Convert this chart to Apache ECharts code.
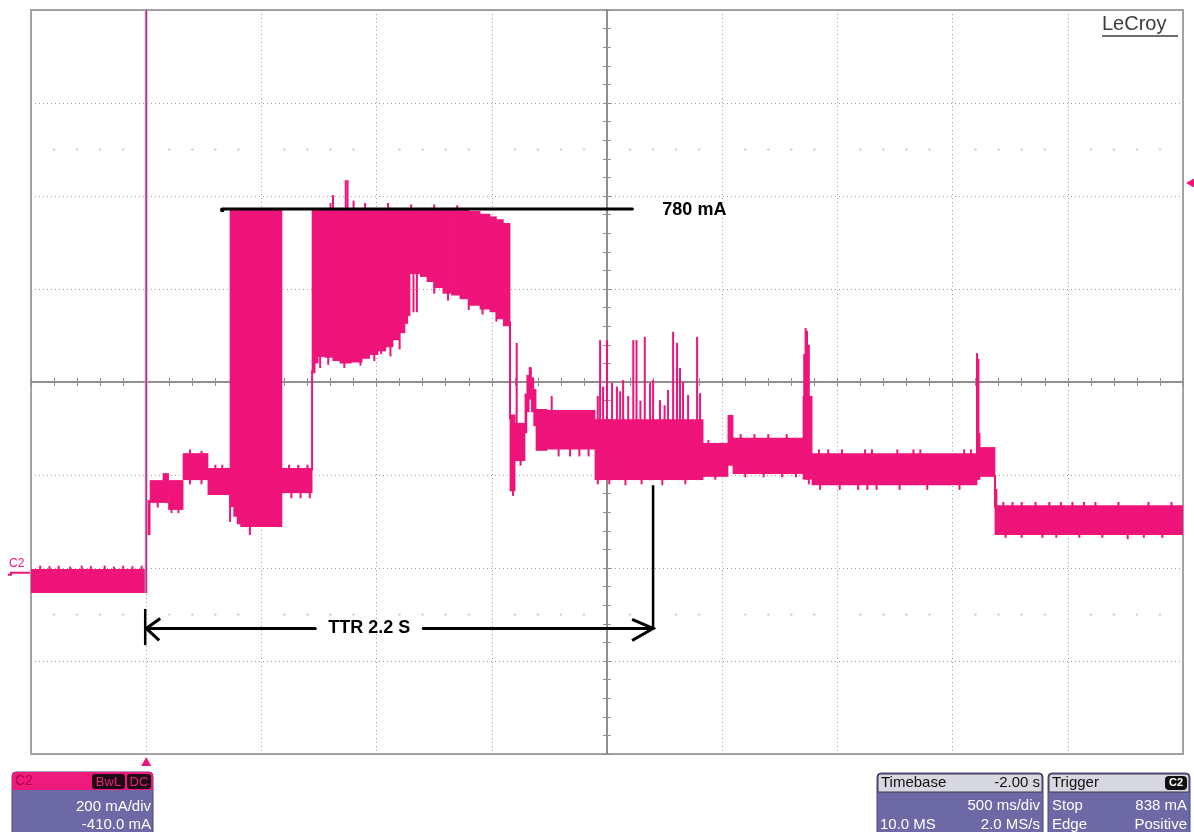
<!DOCTYPE html>
<html><head><meta charset="utf-8">
<script src="https://cdn.jsdelivr.net/npm/echarts@6/dist/echarts.min.js"></script>
<style>html,body{margin:0;padding:0;background:#fff;}#c{width:1194px;height:832px;}</style>
</head><body><div id="c"></div>
<script>
// ---------- scope settings ----------
const timeMin = -0.5, timeMax = 4.5;          // s  (500 ms/div, 10 div, trigger at 0)
const currMin = -390, currMax = 1210;         // mA (200 mA/div, 8 div, offset -410 mA)
const divX = [-5, 5], divY = [-4, 4];         // graticule in divisions
const triggerTime = 0;                        // s
const triggerLevel = 838;                     // mA
const groundLevel = 0;                        // mA

// ---------- trace envelope: [tStart s, tEnd s, low mA, high mA] ----------
const bands = [
  [-0.5, 0.0, -44, 8],
  [0.0, 0.017, 81, 156],
  [0.017, 0.073, 150, 199],
  [0.073, 0.097, 150, 214],
  [0.097, 0.160, 135, 199],
  [0.160, 0.268, 199, 257],
  [0.268, 0.364, 167, 225],
  [0.364, 0.380, 141, 780],
  [0.380, 0.395, 120, 780],
  [0.395, 0.410, 104, 780],
  [0.410, 0.589, 98, 780],
  [0.589, 0.720, 171, 225],
  [0.720, 0.733, 429, 780],
  [0.733, 0.746, 450, 780],
  [0.746, 0.776, 464, 780],
  [0.776, 0.810, 462, 780],
  [0.810, 0.841, 455, 780],
  [0.841, 0.890, 450, 780],
  [0.890, 0.937, 452, 780],
  [0.937, 0.970, 460, 780],
  [0.970, 1.006, 468, 780],
  [1.006, 1.040, 476, 780],
  [1.040, 1.071, 485, 780],
  [1.071, 1.100, 500, 780],
  [1.100, 1.123, 515, 780],
  [1.123, 1.135, 535, 780],
  [1.135, 1.145, 552, 780],
  [1.145, 1.190, 642, 780],
  [1.190, 1.219, 636, 780],
  [1.219, 1.250, 625, 780],
  [1.250, 1.288, 612, 780],
  [1.288, 1.325, 600, 780],
  [1.325, 1.362, 596, 780],
  [1.362, 1.400, 588, 780],
  [1.400, 1.449, 574, 778],
  [1.449, 1.492, 566, 772],
  [1.492, 1.520, 560, 766],
  [1.520, 1.550, 545, 760],
  [1.550, 1.579, 530, 752],
  [1.579, 1.601, 175, 340],
  [1.601, 1.644, 240, 322],
  [1.644, 1.652, 300, 385],
  [1.652, 1.662, 345, 425],
  [1.662, 1.672, 372, 442],
  [1.672, 1.682, 345, 420],
  [1.682, 1.692, 315, 395],
  [1.692, 1.740, 262, 352],
  [1.740, 1.948, 265, 350],
  [1.948, 2.417, 199, 330],
  [2.417, 2.525, 206, 279],
  [2.525, 2.547, 230, 339],
  [2.547, 2.851, 212, 290],
  [2.851, 2.890, 200, 380],
  [2.890, 3.606, 188, 257],
  [3.606, 3.619, 200, 300],
  [3.619, 3.684, 206, 270],
  [3.684, 4.5, 81, 145]
];

// ---------- narrow spikes, edges and edge jitter: [t s, low mA, high mA] ----------
const spikes = [
  // pre-trigger jitter
  [-0.46, 0, 15], [-0.42, 0, 14], [-0.38, 0, 15], [-0.33, 0, 13], [-0.28, 0, 15], [-0.24, 0, 14],
  [-0.18, 0, 15], [-0.14, 0, 13], [-0.10, 0, 15], [-0.06, 0, 14], [-0.02, 0, 15],
  // step region
  [0.05, 140, 160], [0.11, 128, 140], [0.14, 128, 140], [0.19, 190, 265], [0.24, 190, 262],
  [0.30, 220, 232], [0.33, 220, 232], [0.62, 220, 232], [0.66, 220, 232], [0.70, 220, 232],
  [0.63, 160, 172], [0.67, 160, 172], [0.71, 160, 172],
  // burst 1 / 2 edges
  [0.364, 109, 200], [0.45, 81, 110],
  [0.720, 220, 435],
  [0.811, 760, 812], [0.866, 760, 844], [0.874, 760, 844], [0.90, 760, 800],
  [0.80, 770, 795], [0.95, 770, 795], [1.05, 770, 795], [1.15, 770, 792], [1.25, 770, 792], [1.35, 770, 790],
  [0.755, 440, 480], [0.79, 447, 480], [0.86, 440, 470], [0.93, 445, 470], [0.99, 455, 480],
  [1.02, 470, 500], [1.06, 465, 500], [1.10, 480, 520], [1.16, 560, 650], [1.175, 560, 650],
  [1.25, 600, 640], [1.31, 585, 620], [1.40, 565, 600], [1.46, 555, 580], [1.52, 540, 570],
  // drop and ringing
  [1.579, 330, 540], [1.592, 165, 260], [1.608, 300, 494], [1.625, 230, 260],
  [1.76, 340, 380], [1.79, 250, 270], [1.84, 250, 270], [1.88, 250, 270], [1.92, 250, 270],
  // burst 3 spikes
  [1.960, 190, 380], [1.970, 199, 500], [1.983, 199, 400], [2.000, 199, 500], [2.022, 199, 408],
  [2.043, 199, 400], [2.057, 199, 390], [2.070, 199, 414], [2.092, 199, 380],
  [2.114, 199, 500], [2.128, 199, 500], [2.145, 199, 370], [2.164, 199, 507],
  [2.187, 199, 408], [2.200, 199, 414], [2.230, 199, 371], [2.250, 199, 360],
  [2.265, 199, 393], [2.287, 199, 518], [2.304, 199, 494], [2.317, 199, 440],
  [2.330, 199, 410], [2.352, 199, 382], [2.391, 199, 507], [2.404, 199, 386],
  [2.01, 190, 210], [2.08, 188, 210], [2.15, 190, 210], [2.24, 188, 210], [2.34, 190, 210],
  // middle bands jitter
  [2.47, 200, 215], [2.44, 270, 285], [2.58, 280, 298], [2.64, 280, 298], [2.70, 280, 298],
  [2.78, 280, 298], [2.60, 205, 220], [2.68, 205, 220], [2.76, 205, 220], [2.82, 205, 220],
  [2.856, 230, 470], [2.862, 230, 526], [2.868, 200, 520], [2.876, 190, 490],
  [2.925, 178, 195], [3.01, 178, 195], [3.09, 178, 195], [3.13, 178, 195], [3.17, 178, 195],
  [3.27, 178, 195], [3.39, 178, 195], [3.53, 178, 195],
  [2.92, 250, 265], [2.96, 250, 265], [3.02, 250, 265], [3.12, 250, 265], [3.15, 250, 265],
  [3.26, 250, 265], [3.33, 250, 265], [3.36, 250, 265], [3.55, 250, 265], [3.58, 250, 265],
  [3.606, 200, 472], [3.612, 200, 460],
  [3.684, 140, 210], [3.690, 140, 180],
  // tail jitter
  [3.72, 140, 152], [3.76, 140, 152], [3.80, 140, 152], [3.86, 140, 152], [3.92, 140, 152],
  [3.97, 140, 152], [4.02, 140, 152], [4.07, 140, 152], [4.12, 140, 152], [4.22, 140, 152],
  [4.35, 140, 152], [4.45, 140, 152],
  [3.73, 75, 88], [3.80, 75, 88], [3.89, 75, 88], [3.95, 75, 88], [4.05, 75, 88],
  [4.15, 75, 88], [4.26, 72, 88], [4.33, 75, 88], [4.41, 75, 88]
];
const triggerEdge = [0.0, -44, 1210];

// ---------- annotations ----------
const peakLevel = 780, peakSpan = [0.33, 2.11], peakLabel = '780 mA';
const ttrSpan = [0.0, 2.2], ttrLevel = -120, ttrLabel = 'TTR 2.2 S';
const ttrLeftTick = [-78, -156], ttrRightTop = 188;

// ---------- info panels ----------
const chanInfo = ['C2', 'BwL', 'DC', '200 mA/div', '-410.0 mA'];
const timeInfo = ['Timebase', '-2.00 s', '500 ms/div', '10.0 MS', '2.0 MS/s'];
const trigInfo = ['Trigger', 'C2', 'Stop', '838 mA', 'Edge', 'Positive'];

const TRACE = '#ef1479';
const GRIDC = '#8f8f8f';
const FONT = '"Liberation Sans", Arial, sans-serif';

const chart = echarts.init(document.getElementById('c'), null, {renderer: 'canvas'});

function divAxis(range, pos, split) {
  return {
    type: 'value', min: range[0], max: range[1], interval: 1, position: pos,
    axisLine: {show: true, onZero: true, onZeroAxisIndex: 0, lineStyle: {color: GRIDC, width: 2}},
    axisTick: {show: true, length: 4, lineStyle: {color: GRIDC, width: 1}},
    minorTick: {show: true, splitNumber: 5, length: 4, lineStyle: {color: GRIDC, width: 1}},
    splitLine: {show: split, lineStyle: {color: '#9c9c9c', width: 1, type: [1, 3]}},
    axisLabel: {show: false}
  };
}

const option = {
  animation: false,
  backgroundColor: '#ffffff',
  grid: {left: 31, top: 10, width: 1152, height: 744, show: true, borderColor: '#a3a3a3', borderWidth: 2,
         backgroundColor: '#fff', containLabel: false, outerBoundsMode: 'none'},
  xAxis: [divAxis(divX, 'bottom', true), divAxis(divX, 'top', false),
          {type: 'value', min: timeMin, max: timeMax, show: false}],
  yAxis: [divAxis(divY, 'left', true), divAxis(divY, 'right', false),
          {type: 'value', min: currMin, max: currMax, show: false}],
  series: [
    {
      // faint half-division reference marks of the graticule
      type: 'custom', xAxisIndex: 0, yAxisIndex: 0, silent: true, clip: true, z: 1,
      data: [[0]],
      renderItem: function (params, api) {
        const kids = [];
        [2.5, -2.5].forEach(function (row) {
          for (let i = 0; i <= 50; i++) {
            if (i % 5 === 0) continue;
            const p = api.coord([divX[0] + i * 0.2, row]);
            kids.push({type: 'rect', shape: {x: p[0] - 0.5, y: p[1] - 1.5, width: 1, height: 3}, style: {fill: '#cfcfcf'}});
            kids.push({type: 'rect', shape: {x: p[0] - 1.5, y: p[1] - 0.5, width: 3, height: 1}, style: {fill: '#d6d6d6'}});
          }
        });
        return {type: 'group', children: kids};
      }
    },
    {
      type: 'custom', xAxisIndex: 2, yAxisIndex: 2, silent: true, clip: true,
      data: bands,
      renderItem: function (params, api) {
        const a = api.coord([api.value(0), api.value(3)]);
        const b = api.coord([api.value(1), api.value(2)]);
        return {type: 'rect', shape: {x: a[0] - 0.4, y: a[1], width: Math.max(b[0] - a[0] + 0.8, 1), height: b[1] - a[1]},
                style: {fill: TRACE}};
      }
    },
    {
      type: 'custom', xAxisIndex: 2, yAxisIndex: 2, silent: true, clip: true,
      data: spikes,
      renderItem: function (params, api) {
        const a = api.coord([api.value(0), api.value(1)]);
        const b = api.coord([api.value(0), api.value(2)]);
        return {type: 'line', shape: {x1: a[0], y1: a[1], x2: b[0], y2: b[1]},
                style: {stroke: TRACE, lineWidth: 2}};
      }
    },
    {
      type: 'custom', xAxisIndex: 2, yAxisIndex: 2, silent: true, clip: true,
      data: [triggerEdge],
      renderItem: function (params, api) {
        const a = api.coord([api.value(0), api.value(1)]);
        const b = api.coord([api.value(0), api.value(2)]);
        return {type: 'group', children: [
          {type: 'line', shape: {x1: a[0], y1: a[1], x2: b[0], y2: b[1]}, style: {stroke: '#f7a6cf', lineWidth: 3}},
          {type: 'line', shape: {x1: a[0], y1: a[1], x2: b[0], y2: b[1]}, style: {stroke: '#9a3a8a', lineWidth: 1.5}}
        ]};
      }
    },
    {
      // annotations and scope markers
      type: 'custom', xAxisIndex: 2, yAxisIndex: 2, silent: true, clip: false,
      data: [[0]],
      z: 10,
      renderItem: function (params, api) {
        const blk = '#000';
        const p0 = api.coord([peakSpan[0], peakLevel]);
        const p1 = api.coord([peakSpan[1], peakLevel]);
        const t0 = api.coord([ttrSpan[0], ttrLevel]);
        const t1 = api.coord([ttrSpan[1], ttrLevel]);
        const lt0 = api.coord([ttrSpan[0], ttrLeftTick[0]]);
        const lt1 = api.coord([ttrSpan[0], ttrLeftTick[1]]);
        const rt = api.coord([ttrSpan[1], ttrRightTop]);
        const midX = t0[0] + (t1[0] - t0[0]) * 0.44;
        const gap = 54;
        const trig = api.coord([triggerTime, currMin]);
        const lvl = api.coord([timeMax, triggerLevel]);
        const gnd = api.coord([timeMin, groundLevel]);
        const ls = {stroke: blk, lineWidth: 3, lineCap: 'round'};
        return {type: 'group', children: [
          {type: 'circle', shape: {cx: p0[0], cy: p0[1], r: 2.2}, style: {fill: blk}},
          {type: 'line', shape: {x1: p0[0], y1: p0[1] - 1, x2: p1[0], y2: p1[1] - 1}, style: ls},
          {type: 'text', x: p1[0] + 30, y: p1[1], style: {text: peakLabel, fill: blk, font: 'bold 18px ' + FONT, verticalAlign: 'middle'}},
          {type: 'line', shape: {x1: t0[0], y1: t0[1], x2: midX - gap, y2: t0[1]}, style: ls},
          {type: 'line', shape: {x1: midX + gap, y1: t0[1], x2: t1[0], y2: t1[1]}, style: ls},
          {type: 'text', x: midX, y: t0[1], style: {text: ttrLabel, fill: blk, font: 'bold 18px ' + FONT, align: 'center', verticalAlign: 'middle'}},
          {type: 'polyline', shape: {points: [[t0[0] + 14, t0[1] - 10], [t0[0], t0[1]], [t0[0] + 13, t0[1] + 12]]}, style: {stroke: blk, lineWidth: 3, fill: null}},
          {type: 'polyline', shape: {points: [[t1[0] - 21, t1[1] - 9], [t1[0], t1[1]], [t1[0] - 21, t1[1] + 12]]}, style: {stroke: blk, lineWidth: 3, fill: null}},
          {type: 'line', shape: {x1: lt0[0] - 1, y1: lt0[1], x2: lt1[0] - 1, y2: lt1[1]}, style: {stroke: blk, lineWidth: 2.5}},
          {type: 'line', shape: {x1: rt[0], y1: rt[1], x2: t1[0], y2: t1[1]}, style: {stroke: blk, lineWidth: 2.5}},
          // trigger time marker (below grid)
          {type: 'polygon', shape: {points: [[trig[0], trig[1] + 3], [trig[0] - 5, trig[1] + 12], [trig[0] + 5, trig[1] + 12]]}, style: {fill: TRACE}},
          // trigger level marker (right)
          {type: 'polygon', shape: {points: [[lvl[0] + 3, lvl[1]], [lvl[0] + 12, lvl[1] - 5], [lvl[0] + 12, lvl[1] + 5]]}, style: {fill: TRACE}},
          // ground marker (left)
          {type: 'text', x: gnd[0] - 22, y: gnd[1] - 3, style: {text: 'C2', fill: TRACE, font: '12px ' + FONT, verticalAlign: 'bottom'}},
          {type: 'polyline', shape: {points: [[gnd[0] - 23, gnd[1] + 2], [gnd[0] - 20, gnd[1] + 2], [gnd[0] - 20, gnd[1]], [gnd[0] - 1, gnd[1]]]}, style: {stroke: TRACE, lineWidth: 2, fill: null}}
        ]};
      }
    }
  ],
  graphic: [
    // LeCroy logo
    {type: 'text', left: 1102, top: 14, style: {text: 'LeCroy', fill: '#3c3c3c', font: '20px ' + FONT}},
    {type: 'line', shape: {x1: 1102, y1: 36, x2: 1178, y2: 36}, style: {stroke: '#3c3c3c', lineWidth: 1.5}},
    // channel panel
    {type: 'rect', shape: {x: 12, y: 772, width: 141, height: 70, r: [4, 4, 0, 0]}, style: {fill: '#6c69a6', stroke: '#4a4780', lineWidth: 1}},
    {type: 'rect', shape: {x: 12, y: 772, width: 141, height: 18, r: [4, 4, 0, 0]}, style: {fill: '#ee1a7c'}},
    {type: 'text', x: 15, y: 781, style: {text: chanInfo[0], fill: '#b0004c', font: '14px ' + FONT, verticalAlign: 'middle'}},
    {type: 'rect', shape: {x: 92, y: 774, width: 33, height: 15, r: 3}, style: {fill: '#1e0a14'}},
    {type: 'text', x: 108.5, y: 782, style: {text: chanInfo[1], fill: '#e8207a', font: '13px ' + FONT, align: 'center', verticalAlign: 'middle'}},
    {type: 'rect', shape: {x: 127, y: 774, width: 24, height: 15, r: 3}, style: {fill: '#1e0a14'}},
    {type: 'text', x: 139, y: 782, style: {text: chanInfo[2], fill: '#e8207a', font: '13px ' + FONT, align: 'center', verticalAlign: 'middle'}},
    {type: 'text', x: 151, y: 807, style: {text: chanInfo[3], fill: '#fff', font: '15px ' + FONT, align: 'right', verticalAlign: 'middle'}},
    {type: 'text', x: 151, y: 825, style: {text: chanInfo[4], fill: '#fff', font: '15px ' + FONT, align: 'right', verticalAlign: 'middle'}},
    // timebase panel
    {type: 'rect', shape: {x: 877, y: 773, width: 166, height: 70, r: [4, 4, 0, 0]}, style: {fill: '#6c69a6', stroke: '#4a4780', lineWidth: 1}},
    {type: 'rect', shape: {x: 878, y: 774, width: 164, height: 18, r: [3, 3, 0, 0]}, style: {fill: '#d8d8e0', stroke: '#3a3a50', lineWidth: 1}},
    {type: 'text', x: 881, y: 783, style: {text: timeInfo[0], fill: '#111', font: '15px ' + FONT, verticalAlign: 'middle'}},
    {type: 'text', x: 1040, y: 783, style: {text: timeInfo[1], fill: '#111', font: '15px ' + FONT, align: 'right', verticalAlign: 'middle'}},
    {type: 'text', x: 1040, y: 806, style: {text: timeInfo[2], fill: '#fff', font: '15px ' + FONT, align: 'right', verticalAlign: 'middle'}},
    {type: 'text', x: 880, y: 825, style: {text: timeInfo[3], fill: '#fff', font: '15px ' + FONT, verticalAlign: 'middle'}},
    {type: 'text', x: 1040, y: 825, style: {text: timeInfo[4], fill: '#fff', font: '15px ' + FONT, align: 'right', verticalAlign: 'middle'}},
    // trigger panel
    {type: 'rect', shape: {x: 1048, y: 773, width: 142, height: 70, r: [4, 4, 0, 0]}, style: {fill: '#6c69a6', stroke: '#4a4780', lineWidth: 1}},
    {type: 'rect', shape: {x: 1049, y: 774, width: 140, height: 18, r: [3, 3, 0, 0]}, style: {fill: '#d8d8e0', stroke: '#3a3a50', lineWidth: 1}},
    {type: 'text', x: 1052, y: 783, style: {text: trigInfo[0], fill: '#111', font: '15px ' + FONT, verticalAlign: 'middle'}},
    {type: 'rect', shape: {x: 1165, y: 776, width: 22, height: 14, r: 4}, style: {fill: '#111'}},
    {type: 'text', x: 1176, y: 783, style: {text: trigInfo[1], fill: '#fff', font: 'bold 11px ' + FONT, align: 'center', verticalAlign: 'middle'}},
    {type: 'text', x: 1052, y: 806, style: {text: trigInfo[2], fill: '#fff', font: '15px ' + FONT, verticalAlign: 'middle'}},
    {type: 'text', x: 1187, y: 806, style: {text: trigInfo[3], fill: '#fff', font: '15px ' + FONT, align: 'right', verticalAlign: 'middle'}},
    {type: 'text', x: 1052, y: 825, style: {text: trigInfo[4], fill: '#fff', font: '15px ' + FONT, verticalAlign: 'middle'}},
    {type: 'text', x: 1187, y: 825, style: {text: trigInfo[5], fill: '#fff', font: '15px ' + FONT, align: 'right', verticalAlign: 'middle'}}
  ]
};
chart.setOption(option);
</script>
</body></html>
